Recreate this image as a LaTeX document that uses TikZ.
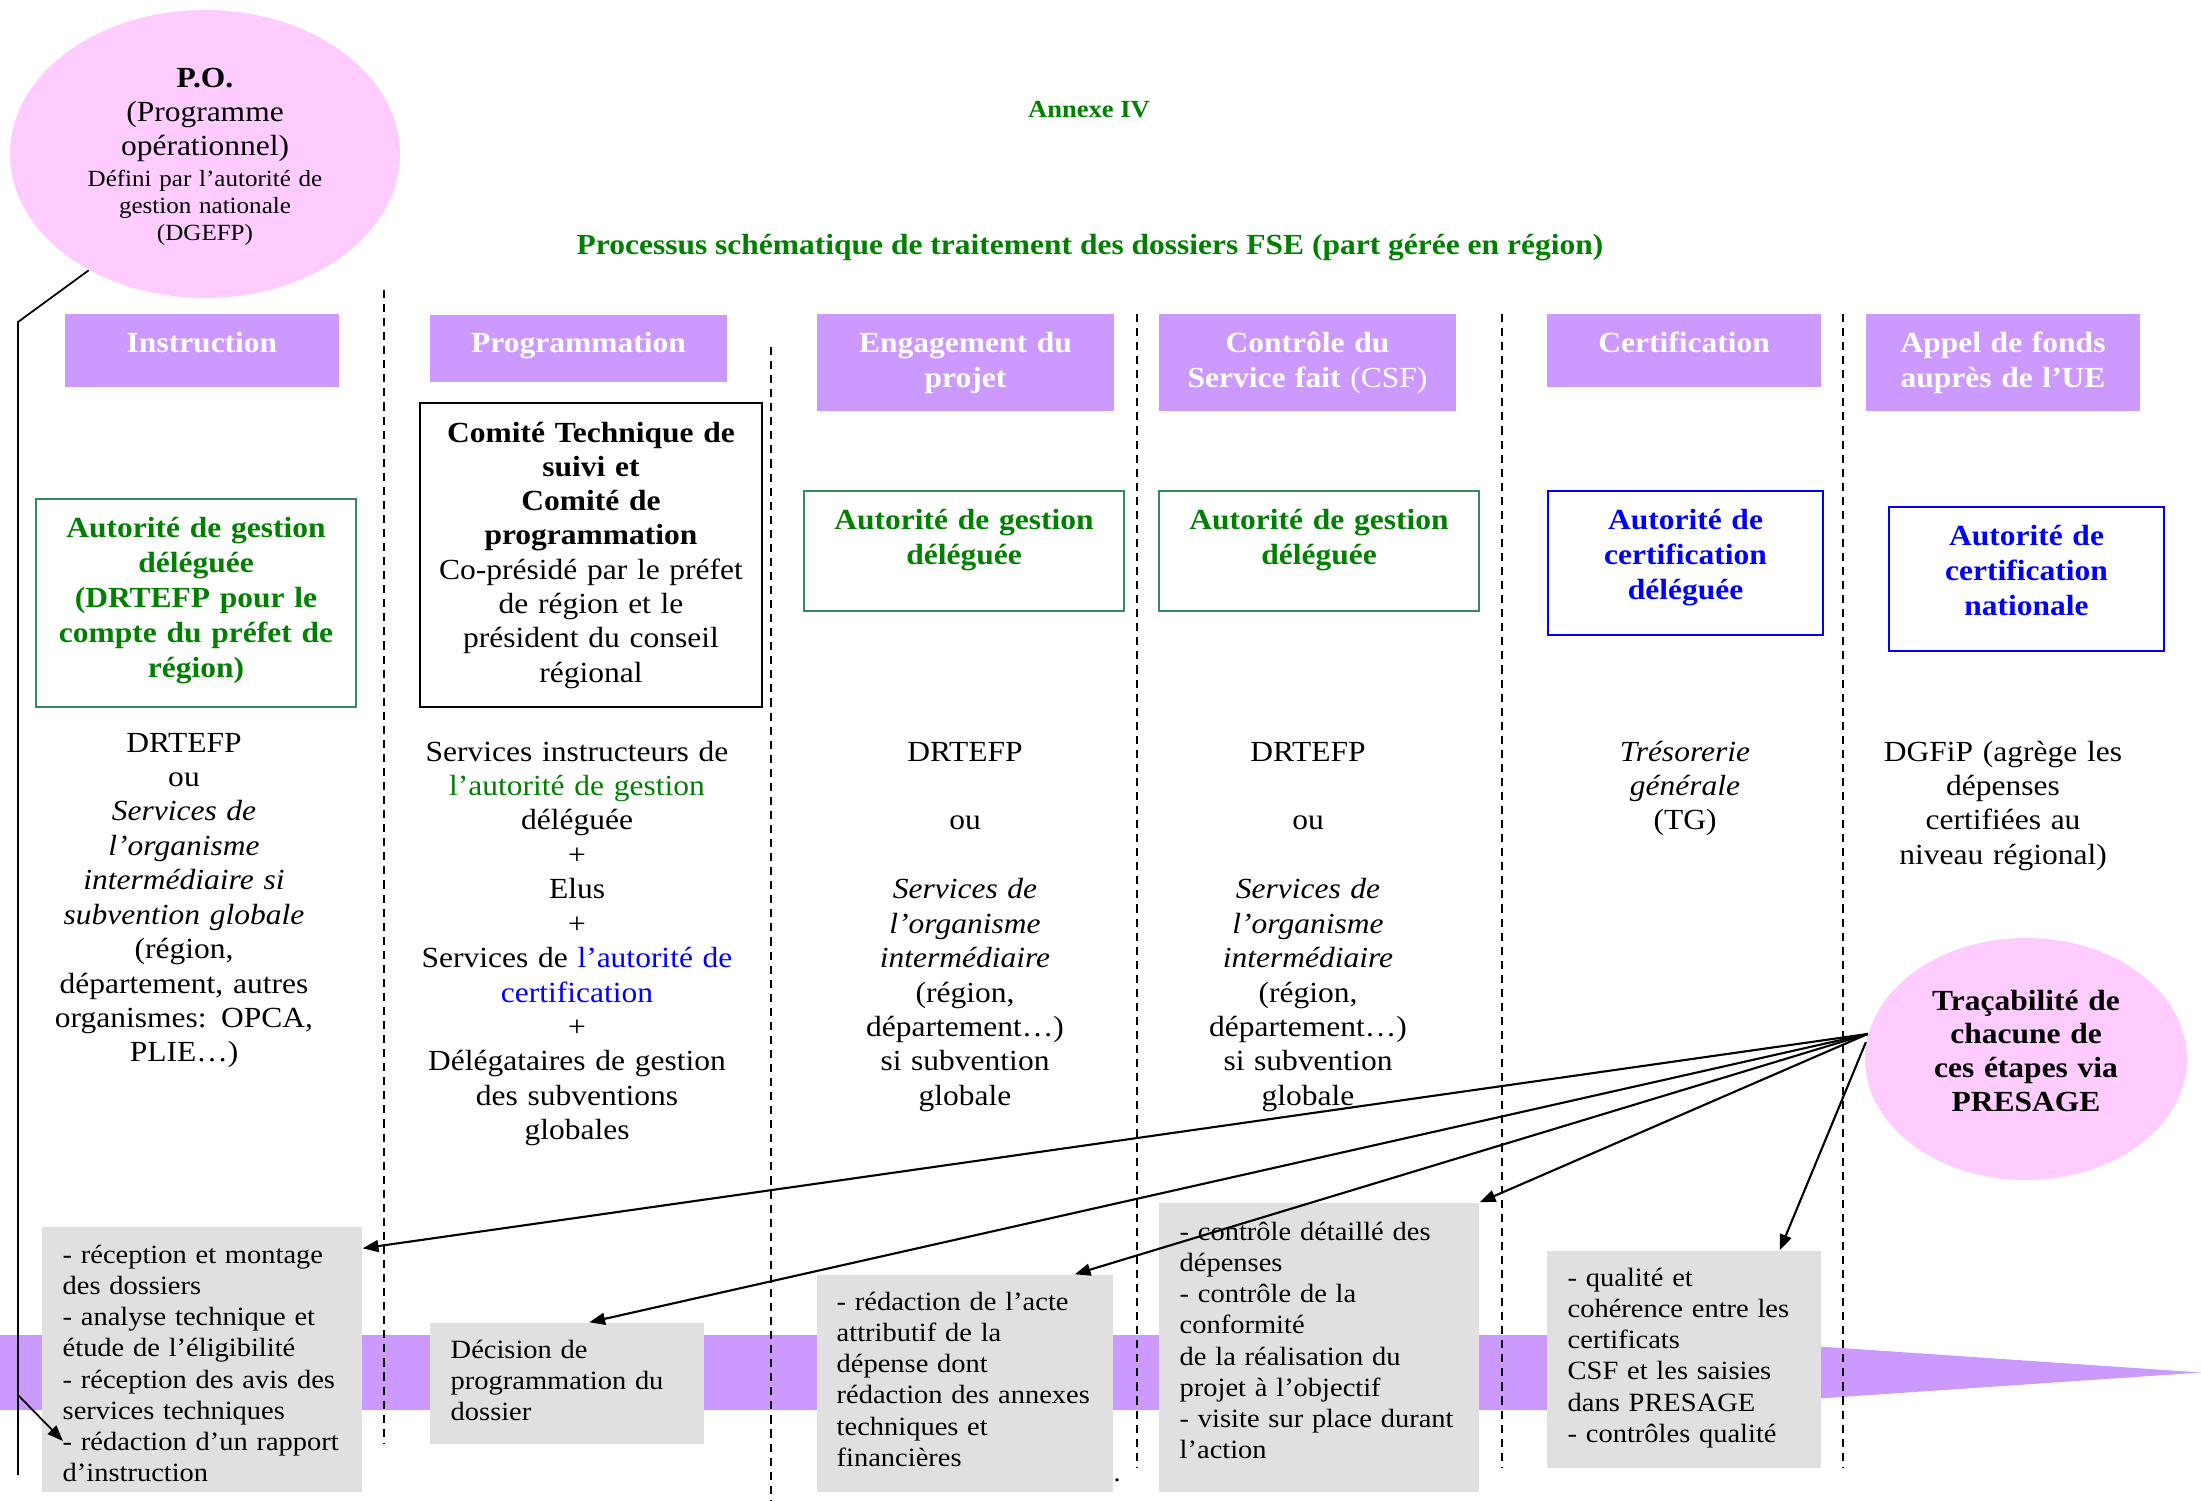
\documentclass[tikz,border=0pt]{standalone}
\usepackage{fontspec}
\setmainfont{Liberation Serif}[FakeStretch=1.08]
\usetikzlibrary{arrows.meta,shapes.geometric,calc}
\newdimen\pu \pu=0.1mm
\definecolor{hpurple}{RGB}{204,153,255}
\definecolor{hpink}{RGB}{255,204,255}
\definecolor{hgray}{RGB}{224,224,224}
\definecolor{tgreen}{RGB}{0,128,0}
\definecolor{bgreen}{RGB}{52,140,90}
\definecolor{tblue}{RGB}{0,0,255}
\begin{document}
\begin{tikzpicture}[x=0.1mm,y=-0.1mm,
  wh/.style 2 args={minimum width=#1\pu,minimum height=#2\pu},
  hdrbox/.style={fill=hpurple,inner sep=0},
  hdrtxt/.style={text=white,font=\fontsize{8.3}{9.96}\selectfont\bfseries,text width=300\pu,align=center,inner sep=0,anchor=base},
  greenbox/.style={draw=bgreen,line width=0.5pt,inner sep=0},
  bluebox/.style={draw=tblue,line width=0.65pt,inner sep=0},
  blackbox/.style={draw=black,line width=0.75pt,inner sep=0},
  grnt/.style={text=tgreen,font=\fontsize{8.3}{9.96}\selectfont\bfseries,text width=330\pu,align=center,inner sep=0,anchor=base},
  blut/.style={text=tblue,font=\fontsize{8.3}{9.96}\selectfont\bfseries,text width=330\pu,align=center,inner sep=0,anchor=base},
  bodyt/.style={font=\fontsize{8.3}{9.8}\selectfont,text width=340\pu,align=center,inner sep=0,anchor=base},
  graybox/.style={fill=hgray,inner sep=0},
  grayt/.style={font=\fontsize{7.5}{8.9}\selectfont,text width=320\pu,align=left,inner sep=0,anchor=base west},
  ttl/.style={text=tgreen,font=\bfseries,inner sep=0,anchor=base},
  sepline/.style={dash pattern=on 2.3pt off 1.7pt,line width=0.57pt},
  thin/.style={line width=0.5pt},
  conn/.style={line width=0.6pt,-{Triangle[length=4.5pt,width=3.4pt]}}
]
\useasboundingbox (0,0) rectangle (2201,1500);

% purple process band (arrow)
\fill[hpurple] (0,1335) -- (1650,1335) -- (2201,1372.5) -- (1650,1410) -- (0,1410) -- cycle;

% dashed separators
\draw[sepline] (384,290) -- (384,1443);
\draw[sepline] (771,347) -- (771,1500);
\draw[sepline] (1137,314) -- (1137,1467);
\draw[sepline] (1502,314) -- (1502,1467);
\draw[sepline] (1843,314) -- (1843,1467);

% titles
\node[ttl,font=\fontsize{7}{8}\selectfont\bfseries] (annexe) at (1089,118) {Annexe IV};
\node[ttl,font=\fontsize{8.3}{9.8}\selectfont\bfseries] (title) at (1090,254) {Processus schématique de traitement des dossiers FSE (part gérée en région)};

% P.O. ellipse
\node[ellipse,fill=hpink,wh={390}{288},inner sep=0] (po) at (205,154) {};
\node[bodyt,font=\fontsize{8.3}{9.67}\selectfont] (pot1) at (205,88) {\textbf{P.O.}\\(Programme\\opérationnel)};
\node[bodyt,font=\fontsize{6.6}{7.68}\selectfont] (pot2) at (205,187) {Défini par l’autorité de\\gestion nationale\\(DGEFP)};

% header boxes
\node[hdrbox,wh={274}{73}] (hInstr) at (202,350.5) {};
\node[hdrbox,wh={297}{67}] (hProg) at (578.5,348.5) {};
\node[hdrbox,wh={297}{97}] (hEng) at (965.5,362.5) {};
\node[hdrbox,wh={297}{97}] (hCtrl) at (1307.5,362.5) {};
\node[hdrbox,wh={274}{73}] (hCert) at (1684,350.5) {};
\node[hdrbox,wh={274}{97}] (hAppel) at (2003,362.5) {};
\node[hdrtxt] (tHInstr) at (202,352) {Instruction};
\node[hdrtxt] (tHProg) at (578.5,352) {Programmation};
\node[hdrtxt] (tHEng) at (965.5,352) {Engagement du\\projet};
\node[hdrtxt] (tHCtrl) at (1307.5,352) {Contrôle du\\Service fait {\mdseries (CSF)}};
\node[hdrtxt] (tHCert) at (1684,352) {Certification};
\node[hdrtxt] (tHAppel) at (2003,352) {Appel de fonds\\auprès de l’UE};

% authority boxes
\node[greenbox,wh={320}{208}] (gInstr) at (196,603) {};
\node[grnt] (tgInstr) at (196,537) {Autorité de gestion\\déléguée\\(DRTEFP pour le\\compte du préfet de\\région)};
\node[blackbox,wh={342}{304}] (comite) at (591,555) {};
\node[bodyt,text width=360\pu,font=\fontsize{8.3}{9.76}\selectfont] (tcomite) at (591,442) {\textbf{Comité Technique de}\\\textbf{suivi et}\\\textbf{Comité de}\\\textbf{programmation}\\Co-présidé par le préfet\\de région et le\\président du conseil\\régional};
\node[greenbox,wh={320}{120}] (gEng) at (964,551) {};
\node[grnt] (tgEng) at (964,529) {Autorité de gestion\\déléguée};
\node[greenbox,wh={320}{120}] (gCtrl) at (1319,551) {};
\node[grnt] (tgCtrl) at (1319,529) {Autorité de gestion\\déléguée};
\node[bluebox,wh={275}{144}] (bCert) at (1685.5,563) {};
\node[blut] (tbCert) at (1685.5,529) {Autorité de\\certification\\déléguée};
\node[bluebox,wh={275}{144}] (bAppel) at (2026.5,579) {};
\node[blut] (tbAppel) at (2026.5,545) {Autorité de\\certification\\nationale};

% column texts
\node[bodyt] (cInstr) at (184,752) {DRTEFP\\ou\\\textit{Services de}\\\textit{l’organisme}\\\textit{intermédiaire si}\\\textit{subvention globale}\\(région,\\département, autres\\organismes: OPCA,\\PLIE…)};
\node[bodyt] (cProg) at (577,761) {Services instructeurs de\\\textcolor{tgreen}{l’autorité de gestion}\\déléguée\\+\\Elus\\+\\Services de \textcolor{tblue}{l’autorité de}\\\textcolor{tblue}{certification}\\+\\Délégataires de gestion\\des subventions\\globales};
\node[bodyt] (cEng) at (965,761) {DRTEFP\\[9.8pt]ou\\[9.8pt]\textit{Services de}\\\textit{l’organisme}\\\textit{intermédiaire}\\(région,\\département…)\\si subvention\\globale};
\node[bodyt] (cCtrl) at (1308,761) {DRTEFP\\[9.8pt]ou\\[9.8pt]\textit{Services de}\\\textit{l’organisme}\\\textit{intermédiaire}\\(région,\\département…)\\si subvention\\globale};
\node[bodyt] (cCert) at (1685,761) {\textit{Trésorerie}\\\textit{générale}\\(TG)};
\node[bodyt] (cAppel) at (2003,761) {DGFiP (agrège les\\dépenses\\certifiées au\\niveau régional)};

% traceability circle
\node[ellipse,fill=hpink,wh={322}{242},inner sep=0] (trace) at (2026,1059) {};
\node[bodyt,font=\fontsize{8.3}{9.67}\selectfont\bfseries] (ttrace) at (2026,1010) {Traçabilité de\\chacune de\\ces étapes via\\PRESAGE};

% gray step boxes
\node[graybox,wh={320}{265}] (g1) at (202,1359.5) {};
\node[grayt] (tg1) at (62,1263) {- réception et montage\\des dossiers\\- analyse technique et\\étude de l’éligibilité\\- réception des avis des\\services techniques\\- rédaction d’un rapport\\d’instruction};
\node[graybox,wh={274}{121}] (g2) at (567,1383.5) {};
\node[grayt] (tg2) at (450,1358) {Décision de\\programmation du\\dossier};
\node[graybox,wh={296}{217}] (g3) at (965,1383.5) {};
\node[grayt] (tg3) at (836,1310) {- rédaction de l’acte\\attributif de la\\dépense dont\\rédaction des annexes\\techniques et\\financières};
\node[grayt] (dot) at (1113,1481) {.};
\node[graybox,wh={320}{289}] (g4) at (1319,1347.5) {};
\node[grayt] (tg4) at (1179,1240) {- contrôle détaillé des\\dépenses\\- contrôle de la\\conformité\\de la réalisation du\\projet à l’objectif\\- visite sur place durant\\l’action};
\node[graybox,wh={274}{217}] (g5) at (1684,1359.5) {};
\node[grayt] (tg5) at (1567,1286) {- qualité et\\cohérence entre les\\certificats\\CSF et les saisies\\dans PRESAGE\\- contrôles qualité};

% left connector from P.O.
\coordinate (lc1) at (18,322);
\coordinate (lc2) at (18,1475);
\coordinate (lc3) at (18,1395);
\coordinate (lct) at (63,1441);
\draw[thin] (po.225) -- (lc1) -- (lc2);
\draw[thin,-{Triangle[length=4.5pt,width=3.4pt]}] (lc3) -- (lct);

% arrows from traceability
\draw[conn] (trace.171) -- ($(g1.north east)+(0,22)$);
\draw[conn] (trace.171) -- ($(g2.north west)+(160,0)$);
\draw[conn] (trace.171) -- ($(g3.north east)+(-39,0)$);
\draw[conn] (trace.171) -- (g4.north east);
\draw[conn] (trace.174) -- ($(g5.north east)+(-42,0)$);
\end{tikzpicture}
\end{document}
